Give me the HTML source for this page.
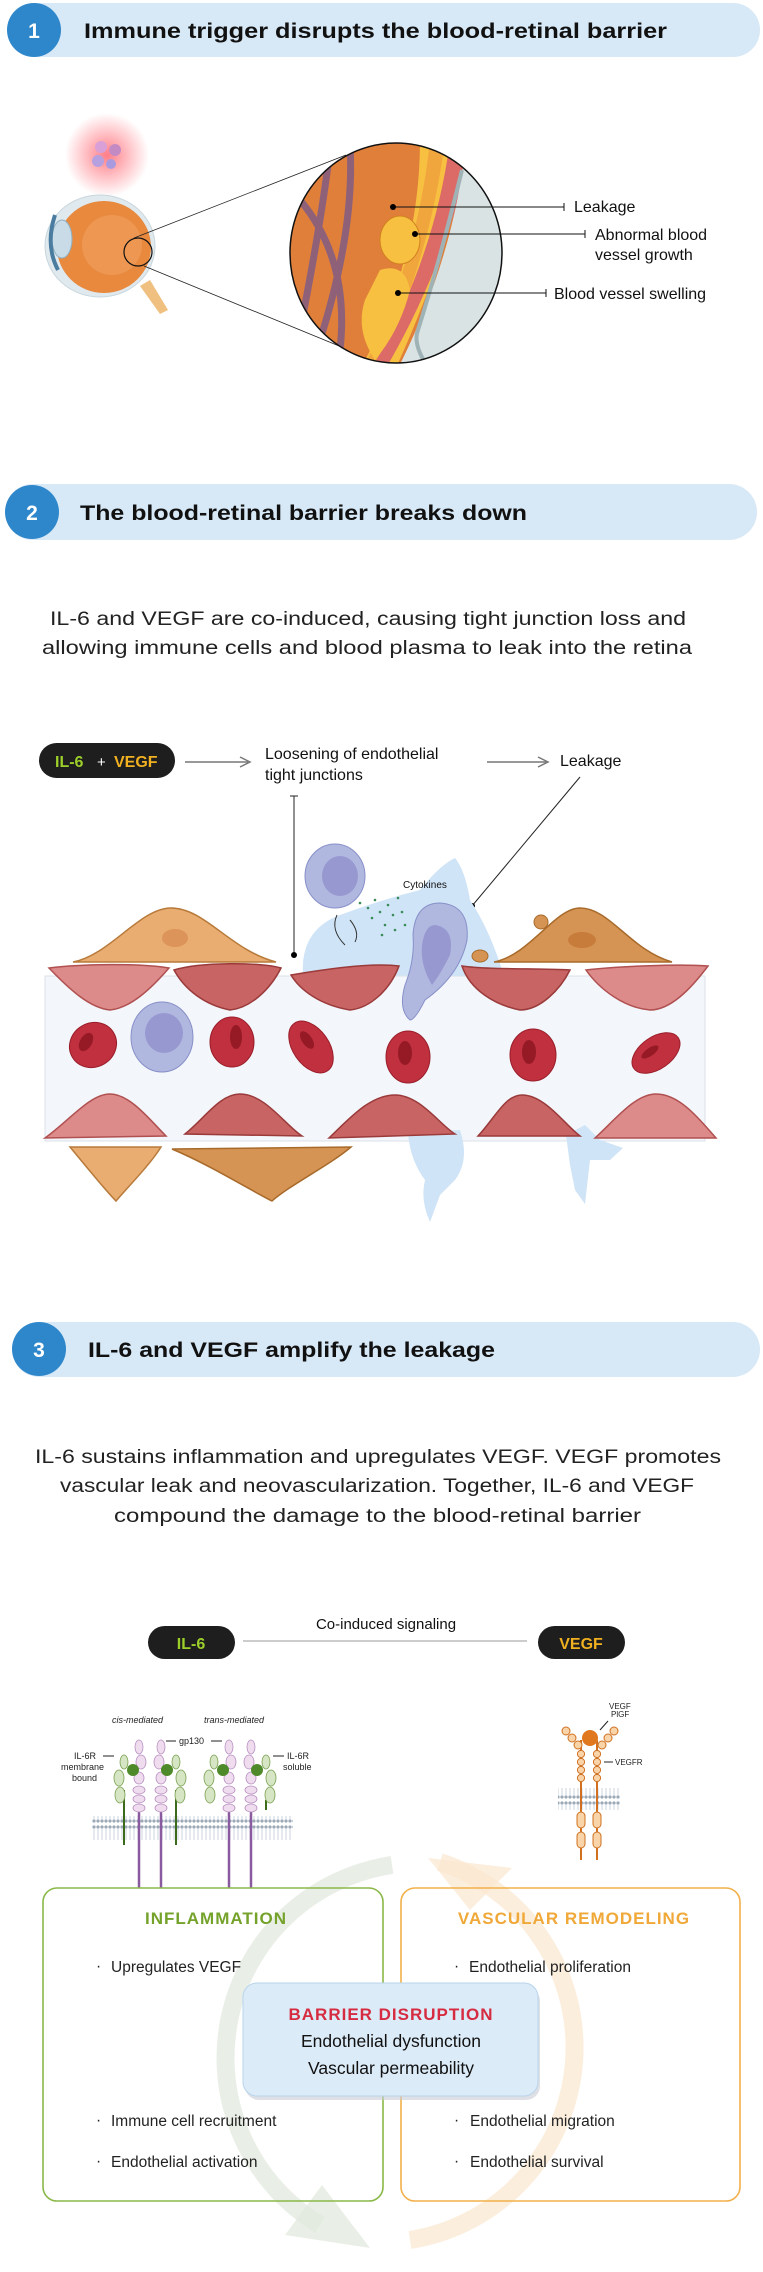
<!DOCTYPE html>
<html><head><meta charset="utf-8"><style>
html,body{margin:0;padding:0;background:#fff}
svg{display:block}
text{font-family:"Liberation Sans",sans-serif}
</style></head><body>
<svg width="763" height="2272" viewBox="0 0 763 2272" xmlns="http://www.w3.org/2000/svg">
<defs>
<radialGradient id="glow"><stop offset="0" stop-color="#ff6f7a" stop-opacity=".9"/><stop offset="1" stop-color="#ff6f7a" stop-opacity="0"/></radialGradient>
<clipPath id="mag"><ellipse cx="396" cy="253" rx="106" ry="110"/></clipPath>
<pattern id="lip" width="4" height="24" patternUnits="userSpaceOnUse"><circle cx="2" cy="3" r="1.6" fill="#9aa8b8"/><circle cx="2" cy="21" r="1.6" fill="#9aa8b8"/><line x1="2" y1="5" x2="2" y2="19" stroke="#c0c8d4" stroke-width=".8"/></pattern>
</defs>

<!-- HEADER 1 -->
<rect x="8" y="3" width="752" height="54" rx="27" fill="#d7e8f6"/>
<circle cx="34" cy="30" r="27" fill="#2f87cb"/>
<text x="34" y="38" font-size="21" font-weight="bold" fill="#fff" text-anchor="middle">1</text>
<text x="84" y="38" font-size="21" font-weight="bold" fill="#111" textLength="583" lengthAdjust="spacingAndGlyphs">Immune trigger disrupts the blood-retinal barrier</text>

<!-- eye -->
<circle cx="107" cy="155" r="42" fill="url(#glow)"/>
<circle cx="101" cy="147" r="6" fill="#d9a0d8"/><circle cx="115" cy="150" r="6" fill="#c48ac4"/>
<circle cx="98" cy="161" r="6" fill="#b7a0e0"/><circle cx="111" cy="164" r="5" fill="#a99ae0"/>
<path d="M150,280 L168,310 L160,314 L140,286Z" fill="#f0c080"/>
<ellipse cx="100" cy="246" rx="55" ry="51" fill="#dfe9ee" stroke="#c8d6dc"/>
<ellipse cx="104" cy="247" rx="47" ry="46" fill="#e8893e"/>
<ellipse cx="112" cy="245" rx="30" ry="30" fill="#f0a060" opacity=".6"/>
<ellipse cx="62" cy="239" rx="10" ry="19" fill="#c8dbe6" stroke="#8fb0c4"/>
<path d="M55,215 Q45,245 58,270" stroke="#4a7ca0" stroke-width="4" fill="none"/>
<circle cx="138" cy="252" r="14" fill="none" stroke="#111" stroke-width="1.2"/>
<line x1="134" y1="238" x2="346" y2="155" stroke="#222" stroke-width=".8"/>
<line x1="144" y1="266" x2="344" y2="348" stroke="#222" stroke-width=".8"/>
<!-- magnified -->
<g clip-path="url(#mag)">
<rect x="280" y="130" width="240" height="250" fill="#e07f3a"/>
<path d="M420,140 L470,140 Q450,250 395,370 L360,370 Q420,260 420,140Z" fill="#f8c040"/>
<path d="M430,140 L445,140 Q430,260 375,375 L360,375 Q418,260 430,140Z" fill="#e98a3a" opacity=".5"/>
<path d="M450,140 L472,140 Q450,260 382,375 L368,375 Q435,260 450,140Z" fill="#dc6a66"/>
<path d="M466,140 L520,140 L520,380 L392,380 Q455,260 466,140Z" fill="#d9e3e4"/>
<path d="M462,170 Q440,260 418,330 Q412,345 430,370" stroke="#9fb3b6" stroke-width="4" fill="none"/>
<path d="M330,150 Q320,230 300,330 M350,145 Q355,230 320,340 M300,200 Q350,260 340,350" stroke="#7a5a8a" stroke-width="7" fill="none" opacity=".8"/>
<ellipse cx="400" cy="240" rx="20" ry="24" fill="#f8c040" stroke="#d08020"/>
<path d="M380,270 Q405,262 410,290 Q400,330 375,360 Q355,330 365,300Z" fill="#f8c040"/>
</g>
<ellipse cx="396" cy="253" rx="106" ry="110" fill="none" stroke="#111" stroke-width="1.5"/>
<g stroke="#111" stroke-width="1">
<line x1="393" y1="207" x2="564" y2="207"/><line x1="564" y1="203" x2="564" y2="211"/>
<line x1="415" y1="234" x2="585" y2="234"/><line x1="585" y1="230" x2="585" y2="238"/>
<line x1="398" y1="293" x2="546" y2="293"/><line x1="546" y1="289" x2="546" y2="297"/>
</g>
<circle cx="393" cy="207" r="3"/><circle cx="415" cy="234" r="3"/><circle cx="398" cy="293" r="3"/>
<g font-size="16" fill="#111">
<text x="574" y="212">Leakage</text>
<text x="595" y="240">Abnormal blood</text>
<text x="595" y="260">vessel growth</text>
<text x="554" y="299">Blood vessel swelling</text>
</g>

<!-- HEADER 2 -->
<rect x="5" y="484" width="752" height="56" rx="28" fill="#d7e8f6"/>
<circle cx="32" cy="512" r="27" fill="#2f87cb"/>
<text x="32" y="520" font-size="21" font-weight="bold" fill="#fff" text-anchor="middle">2</text>
<text x="80" y="520" font-size="21" font-weight="bold" fill="#111" textLength="447" lengthAdjust="spacingAndGlyphs">The blood-retinal barrier breaks down</text>
<g font-size="19" fill="#222">
<text x="50" y="625" textLength="636" lengthAdjust="spacingAndGlyphs">IL-6 and VEGF are co-induced, causing tight junction loss and</text>
<text x="42" y="654" textLength="650" lengthAdjust="spacingAndGlyphs">allowing immune cells and blood plasma to leak into the retina</text>
</g>

<!-- section 2 diagram -->
<rect x="39" y="743" width="136" height="35" rx="17.5" fill="#1e1e1e"/>
<text x="55" y="767" font-size="16" font-weight="bold" fill="#9ccf2a">IL-6</text>
<text x="97" y="767" font-size="15" fill="#fff">+</text>
<text x="114" y="767" font-size="16" font-weight="bold" fill="#f0b020">VEGF</text>
<g stroke="#777" stroke-width="1.5" fill="none"><line x1="185" y1="762" x2="248" y2="762"/><path d="M240,757 L250,762 L240,767"/>
<line x1="487" y1="762" x2="546" y2="762"/><path d="M538,757 L548,762 L538,767"/></g>
<g font-size="16" fill="#111"><text x="265" y="759">Loosening of endothelial</text><text x="265" y="780">tight junctions</text><text x="560" y="766">Leakage</text></g>
<line x1="294" y1="796" x2="294" y2="955" stroke="#222"/><line x1="290" y1="796" x2="298" y2="796" stroke="#222"/><circle cx="294" cy="955" r="3"/>
<line x1="580" y1="777" x2="472" y2="906" stroke="#222"/><circle cx="472" cy="906" r="3"/>
<!-- vessel -->
<rect x="45" y="976" width="660" height="165" fill="#f3f6fb" stroke="#dde3ea"/>
<!-- fluid -->
<path d="M303,975 Q300,930 340,915 Q380,900 420,890 Q440,865 455,858 Q465,870 470,900 Q490,930 504,976Z" fill="#cfe4f7"/>
<path d="M408,1133 L460,1130 Q470,1160 455,1180 L440,1195 L430,1222 Q420,1200 425,1180 Q410,1160 408,1133Z" fill="#cfe4f7"/>
<path d="M566,1135 L585,1125 L600,1140 L623,1148 L610,1160 L590,1160 L585,1204 L575,1190 L570,1165Z" fill="#cfe4f7"/>
<!-- top cells -->
<path d="M73,962 C110,955 140,908 171,908 C205,908 230,950 276,962 Z" fill="#e9ad72" stroke="#b87a3a" stroke-width="1.5"/>
<ellipse cx="175" cy="938" rx="13" ry="9" fill="#dc945a"/>
<path d="M494,962 C530,955 555,908 580,908 C610,908 630,950 672,962 Z" fill="#d59454" stroke="#a86a2a" stroke-width="1.5"/>
<ellipse cx="582" cy="940" rx="14" ry="8" fill="#c87c3c"/>
<circle cx="541" cy="922" r="7" fill="#d59454" stroke="#a86a2a"/><ellipse cx="480" cy="956" rx="8" ry="6" fill="#d59454" stroke="#a86a2a"/>
<ellipse cx="335" cy="876" rx="30" ry="32" fill="#b0b8e0" stroke="#8890c8"/><ellipse cx="340" cy="876" rx="18" ry="20" fill="#9898d0"/>
<path d="M440,903 Q470,905 467,940 Q460,975 425,1000 Q415,1020 410,1020 Q398,1010 405,985 Q415,960 413,935 Q415,903 440,903Z" fill="#b0b8e0" stroke="#8890c8"/>
<path d="M435,925 Q455,928 450,955 Q440,975 432,985 Q420,965 422,945 Q425,925 435,925Z" fill="#9898d0"/>
<g fill="#3a8a5a"><circle cx="360" cy="903" r="1.3"/><circle cx="368" cy="908" r="1.3"/><circle cx="375" cy="900" r="1.3"/><circle cx="380" cy="912" r="1.3"/><circle cx="388" cy="905" r="1.3"/><circle cx="393" cy="915" r="1.3"/><circle cx="372" cy="918" r="1.3"/><circle cx="385" cy="925" r="1.3"/><circle cx="395" cy="930" r="1.3"/><circle cx="402" cy="912" r="1.3"/><circle cx="398" cy="898" r="1.3"/><circle cx="405" cy="925" r="1.3"/><circle cx="382" cy="935" r="1.3"/></g>
<text x="403" y="888" font-size="10" fill="#111">Cytokines</text>
<path d="M337,915 Q330,930 345,945 M350,920 Q360,932 355,942" stroke="#333" fill="none"/>
<!-- endothelial top row -->
<g stroke-width="1.5">
<path d="M49,968 C80,964 140,963 169,968 C150,990 130,1008 110,1010 C90,1008 70,990 49,968Z" fill="#dd8a8a" stroke="#b05050"/>
<path d="M174,970 C200,962 260,962 281,968 C270,990 250,1008 230,1010 C205,1005 185,990 174,970Z" fill="#c86464" stroke="#9a3a3a"/>
<path d="M291,975 C320,970 370,962 399,966 C390,990 370,1008 350,1010 C320,1005 300,990 291,975Z" fill="#c86464" stroke="#9a3a3a"/>
<path d="M462,966 C490,970 540,968 570,970 C560,990 540,1010 520,1010 C495,1005 470,990 462,966Z" fill="#c86464" stroke="#9a3a3a"/>
<path d="M586,970 C620,966 680,964 708,966 C690,990 670,1010 650,1010 C625,1008 600,990 586,970Z" fill="#dd8a8a" stroke="#b05050"/>
<!-- bottom row -->
<path d="M45,1138 C70,1120 90,1094 110,1094 C130,1094 150,1120 166,1136 Z" fill="#dd8a8a" stroke="#b05050"/>
<path d="M185,1134 C205,1118 220,1094 240,1094 C265,1094 285,1125 302,1136 Z" fill="#c86464" stroke="#9a3a3a"/>
<path d="M329,1138 C350,1118 370,1095 395,1095 C420,1095 440,1125 455,1134 Z" fill="#c86464" stroke="#9a3a3a"/>
<path d="M478,1136 C495,1118 505,1095 522,1095 C545,1095 565,1125 580,1136 Z" fill="#c86464" stroke="#9a3a3a"/>
<path d="M595,1138 C615,1120 635,1094 656,1094 C680,1094 700,1120 716,1138 Z" fill="#dd8a8a" stroke="#b05050"/>
<!-- bottom orange -->
<path d="M70,1147 L161,1147 C150,1165 125,1190 116,1201 C105,1190 85,1165 70,1147Z" fill="#e9ad72" stroke="#b87a3a"/>
<path d="M172,1149 L351,1147 C330,1165 290,1185 272,1201 C250,1190 210,1165 172,1149Z" fill="#d59454" stroke="#a86a2a"/>
</g>
<g fill="#c0303e" stroke="#9a1e2a"><ellipse cx="93" cy="1045" rx="24" ry="22" transform="rotate(-30 93 1045)"/><ellipse cx="232" cy="1042" rx="22" ry="25"/><ellipse cx="311" cy="1047" rx="18" ry="29" transform="rotate(-35 311 1047)"/><ellipse cx="408" cy="1057" rx="22" ry="26"/><ellipse cx="533" cy="1055" rx="23" ry="26"/><ellipse cx="656" cy="1053" rx="27" ry="16" transform="rotate(-35 656 1053)"/></g>
<g fill="#951a26"><ellipse cx="86" cy="1042" rx="6" ry="10" transform="rotate(30 86 1042)"/><ellipse cx="236" cy="1037" rx="6" ry="12"/><ellipse cx="307" cy="1040" rx="5" ry="10" transform="rotate(-35 307 1040)"/><ellipse cx="405" cy="1053" rx="7" ry="12"/><ellipse cx="529" cy="1052" rx="7" ry="12"/><ellipse cx="650" cy="1052" rx="10" ry="4" transform="rotate(-35 650 1052)"/></g>
<ellipse cx="162" cy="1037" rx="31" ry="35" fill="#b0b8e0" stroke="#8890c8"/><ellipse cx="164" cy="1033" rx="19" ry="20" fill="#9898d0"/>

<!-- HEADER 3 -->
<rect x="12" y="1322" width="748" height="55" rx="27.5" fill="#d7e8f6"/>
<circle cx="39" cy="1349" r="27" fill="#2f87cb"/>
<text x="39" y="1357" font-size="21" font-weight="bold" fill="#fff" text-anchor="middle">3</text>
<text x="88" y="1357" font-size="21" font-weight="bold" fill="#111" textLength="407" lengthAdjust="spacingAndGlyphs">IL-6 and VEGF amplify the leakage</text>
<g font-size="19" fill="#222">
<text x="35" y="1463" textLength="686" lengthAdjust="spacingAndGlyphs">IL-6 sustains inflammation and upregulates VEGF. VEGF promotes</text>
<text x="60" y="1492" textLength="634" lengthAdjust="spacingAndGlyphs">vascular leak and neovascularization. Together, IL-6 and VEGF</text>
<text x="114" y="1522" textLength="527" lengthAdjust="spacingAndGlyphs">compound the damage to the blood-retinal barrier</text>
</g>
<text x="386" y="1629" font-size="15" fill="#111" text-anchor="middle">Co-induced signaling</text>
<line x1="243" y1="1641" x2="527" y2="1641" stroke="#999" stroke-width="1"/>
<rect x="148" y="1626" width="87" height="33" rx="16.5" fill="#1e1e1e"/>
<text x="191" y="1649" font-size="16" font-weight="bold" fill="#9ccf2a" text-anchor="middle">IL-6</text>
<rect x="538" y="1626" width="87" height="33" rx="16.5" fill="#1e1e1e"/>
<text x="581" y="1649" font-size="16" font-weight="bold" fill="#f0b020" text-anchor="middle">VEGF</text>

<!-- big faint arcs -->
<path d="M392,1865 A195,195 0 0 0 320,2225" stroke="#dfe8dc" stroke-width="18" fill="none" opacity=".7"/>
<path d="M285,2235 L370,2248 L322,2185Z" fill="#dfe8dc" opacity=".7"/>
<path d="M440,1862 A195,195 0 0 1 410,2240" stroke="#fbe7cf" stroke-width="18" fill="none" opacity=".7"/>
<path d="M428,1858 L512,1868 L470,1910Z" fill="#fbe7cf" opacity=".7"/>

<!-- IL-6 receptors -->
<rect x="92" y="1816" width="201" height="24" fill="url(#lip)"/>
<g stroke="#8a5aa0" stroke-width="2.5"><line x1="139" y1="1810" x2="139" y2="1888"/><line x1="161" y1="1810" x2="161" y2="1888"/><line x1="229" y1="1810" x2="229" y2="1888"/><line x1="251" y1="1810" x2="251" y2="1888"/></g>
<g stroke="#3a6a1a" stroke-width="2"><line x1="124" y1="1790" x2="124" y2="1845"/><line x1="176" y1="1790" x2="176" y2="1845"/><line x1="266" y1="1800" x2="266" y2="1810"/></g>
<g fill="#f0dcef" stroke="#b890c0" stroke-width=".8">
<ellipse cx="139" cy="1747" rx="4" ry="7"/><ellipse cx="141" cy="1762" rx="5" ry="7"/><ellipse cx="139" cy="1778" rx="5" ry="6"/><ellipse cx="139" cy="1790" rx="6" ry="4"/><ellipse cx="139" cy="1799" rx="6" ry="4"/><ellipse cx="139" cy="1808" rx="6" ry="4"/>
<ellipse cx="161" cy="1747" rx="4" ry="7"/><ellipse cx="159" cy="1762" rx="5" ry="7"/><ellipse cx="161" cy="1778" rx="5" ry="6"/><ellipse cx="161" cy="1790" rx="6" ry="4"/><ellipse cx="161" cy="1799" rx="6" ry="4"/><ellipse cx="161" cy="1808" rx="6" ry="4"/>
<ellipse cx="229" cy="1747" rx="4" ry="7"/><ellipse cx="231" cy="1762" rx="5" ry="7"/><ellipse cx="229" cy="1778" rx="5" ry="6"/><ellipse cx="229" cy="1790" rx="6" ry="4"/><ellipse cx="229" cy="1799" rx="6" ry="4"/><ellipse cx="229" cy="1808" rx="6" ry="4"/>
<ellipse cx="251" cy="1747" rx="4" ry="7"/><ellipse cx="249" cy="1762" rx="5" ry="7"/><ellipse cx="251" cy="1778" rx="5" ry="6"/><ellipse cx="251" cy="1790" rx="6" ry="4"/><ellipse cx="251" cy="1799" rx="6" ry="4"/><ellipse cx="251" cy="1808" rx="6" ry="4"/>
</g>
<g fill="#d6e6c4" stroke="#7aa050" stroke-width=".8">
<ellipse cx="124" cy="1762" rx="4" ry="7"/><ellipse cx="119" cy="1778" rx="5" ry="8"/><ellipse cx="120" cy="1795" rx="5" ry="8"/>
<ellipse cx="176" cy="1762" rx="4" ry="7"/><ellipse cx="181" cy="1778" rx="5" ry="8"/><ellipse cx="180" cy="1795" rx="5" ry="8"/>
<ellipse cx="214" cy="1762" rx="4" ry="7"/><ellipse cx="209" cy="1778" rx="5" ry="8"/><ellipse cx="210" cy="1795" rx="5" ry="8"/>
<ellipse cx="266" cy="1762" rx="4" ry="7"/><ellipse cx="271" cy="1778" rx="5" ry="8"/><ellipse cx="270" cy="1795" rx="5" ry="8"/>
</g>
<g fill="#4e8a2a"><circle cx="133" cy="1770" r="6"/><circle cx="167" cy="1770" r="6"/><circle cx="223" cy="1770" r="6"/><circle cx="257" cy="1770" r="6"/></g>
<g font-size="9" fill="#222">
<text x="112" y="1723" font-style="italic">cis-mediated</text>
<text x="204" y="1723" font-style="italic">trans-mediated</text>
<text x="179" y="1744">gp130</text>
<text x="74" y="1759">IL-6R</text><text x="61" y="1770">membrane</text><text x="72" y="1781">bound</text>
<text x="287" y="1759">IL-6R</text><text x="283" y="1770">soluble</text>
</g>
<g stroke="#222" stroke-width="1"><line x1="166" y1="1741" x2="176" y2="1741"/><line x1="211" y1="1741" x2="222" y2="1741"/><line x1="103" y1="1756" x2="114" y2="1756"/><line x1="273" y1="1756" x2="284" y2="1756"/></g>
<!-- VEGFR -->
<rect x="558" y="1788" width="62" height="22" fill="url(#lip)"/>
<g stroke="#d07020" stroke-width="2"><line x1="581" y1="1740" x2="581" y2="1860"/><line x1="597" y1="1740" x2="597" y2="1860"/></g>
<g fill="#f8d4a8" stroke="#d07020" stroke-width="1">
<ellipse cx="566" cy="1731" rx="4" ry="4"/><ellipse cx="572" cy="1738" rx="4" ry="4"/><ellipse cx="578" cy="1745" rx="4" ry="4"/>
<ellipse cx="614" cy="1731" rx="4" ry="4"/><ellipse cx="608" cy="1738" rx="4" ry="4"/><ellipse cx="602" cy="1745" rx="4" ry="4"/>
<circle cx="581" cy="1754" r="3.6"/><circle cx="581" cy="1762" r="3.6"/><circle cx="581" cy="1770" r="3.6"/><circle cx="581" cy="1778" r="3.6"/>
<circle cx="597" cy="1754" r="3.6"/><circle cx="597" cy="1762" r="3.6"/><circle cx="597" cy="1770" r="3.6"/><circle cx="597" cy="1778" r="3.6"/>
<rect x="577" y="1812" width="8" height="16" rx="4"/><rect x="593" y="1812" width="8" height="16" rx="4"/>
<rect x="577" y="1832" width="8" height="16" rx="4"/><rect x="593" y="1832" width="8" height="16" rx="4"/>
</g>
<circle cx="590" cy="1738" r="8" fill="#e07820"/>
<g font-size="8" fill="#222"><text x="609" y="1709">VEGF</text><text x="611" y="1717">PlGF</text><text x="615" y="1765">VEGFR</text></g>
<g stroke="#222"><line x1="600" y1="1730" x2="608" y2="1721"/><line x1="604" y1="1762" x2="613" y2="1762"/></g>

<!-- boxes -->
<rect x="43" y="1888" width="340" height="313" rx="14" fill="none" stroke="#8ab848" stroke-width="1.6"/>
<rect x="401" y="1888" width="339" height="313" rx="14" fill="none" stroke="#f2b04a" stroke-width="1.6"/>
<text x="216" y="1924" font-size="17" font-weight="bold" fill="#74a22a" text-anchor="middle" letter-spacing="1">INFLAMMATION</text>
<text x="574" y="1924" font-size="17" font-weight="bold" fill="#f0a838" text-anchor="middle" letter-spacing="1">VASCULAR REMODELING</text>
<g font-size="15.5" fill="#222">
<text x="96" y="1971">·</text><text x="111" y="1972">Upregulates VEGF</text>
<text x="96" y="2125">·</text><text x="111" y="2126">Immune cell recruitment</text>
<text x="96" y="2166">·</text><text x="111" y="2167">Endothelial activation</text>
<text x="454" y="1971">·</text><text x="469" y="1972">Endothelial proliferation</text>
<text x="454" y="2125">·</text><text x="470" y="2126">Endothelial migration</text>
<text x="454" y="2166">·</text><text x="470" y="2167">Endothelial survival</text>
</g>
<rect x="245" y="1987" width="295" height="113" rx="14" fill="#c8ccd4" opacity=".6"/>
<rect x="243" y="1983" width="295" height="113" rx="14" fill="#dcebf8" stroke="#b8d4ec" stroke-width="1"/>
<text x="391" y="2020" font-size="17" font-weight="bold" fill="#d62b40" text-anchor="middle" letter-spacing="1">BARRIER DISRUPTION</text>
<text x="391" y="2047" font-size="17.5" fill="#111" text-anchor="middle">Endothelial dysfunction</text>
<text x="391" y="2074" font-size="17.5" fill="#111" text-anchor="middle">Vascular permeability</text>
</svg>
</body></html>
